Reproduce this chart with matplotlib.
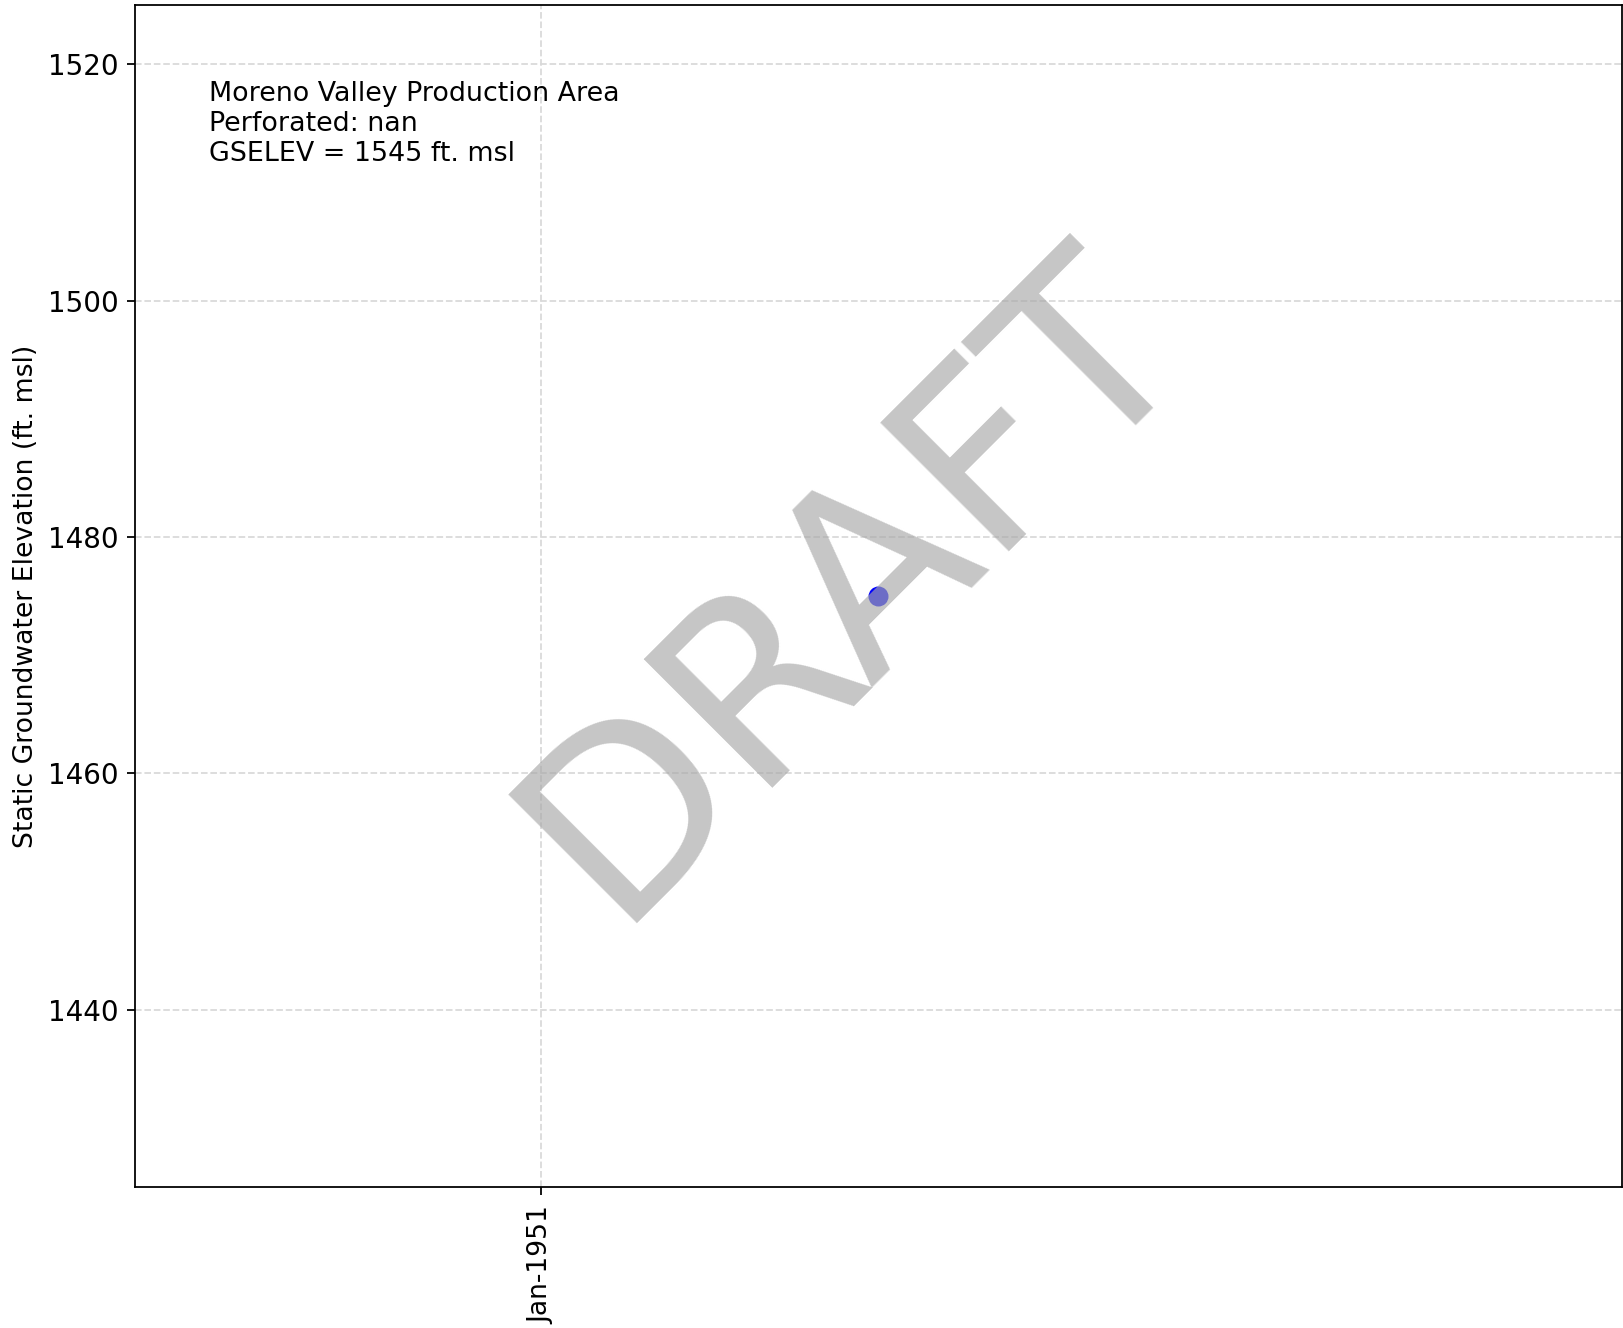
import datetime as dt
import matplotlib
matplotlib.use("Agg")
import matplotlib.pyplot as plt
import matplotlib.dates as mdates
from matplotlib.ticker import FixedLocator

# Well measurement
obs_dates = [dt.datetime(1951, 11, 28)]
obs_elev = [1475.0]

station_area = "Moreno Valley Production Area"
perforated = "nan"
gs_elev = 1545

y_ticks = [1440, 1460, 1480, 1500, 1520]
x_tick_dates = [dt.datetime(1951, 1, 1)]

DPI = 160
fig = plt.figure(figsize=(1623 / DPI, 1328 / DPI), dpi=DPI)
ax = fig.add_axes([0.0829, 0.1062, 0.9165, 0.8900])

ax.plot(obs_dates, obs_elev, linestyle="none", marker="o", color="blue",
        markersize=8, zorder=2)

# two years either side of the measurement
center = mdates.date2num(obs_dates[0])
ax.set_xlim(center - 730.5, center + 730.5)
ax.set_ylim(1425, 1525)

ax.xaxis.set_major_locator(FixedLocator(mdates.date2num(x_tick_dates)))
ax.xaxis.set_major_formatter(mdates.DateFormatter("%b-%Y"))
ax.set_yticks(y_ticks)
ax.tick_params(axis="y", labelsize=12.5)
ax.tick_params(axis="x", labelsize=12, pad=5)
for lbl in ax.get_xticklabels():
    lbl.set_rotation(90)

ax.grid(True, linestyle="--", color="0.85", linewidth=0.8)
ax.set_axisbelow(True)
ax.set_ylabel("Static Groundwater Elevation (ft. msl)", fontsize=12)

info = f"{station_area}\nPerforated: {perforated}\nGSELEV = {gs_elev} ft. msl"
ax.text(0.05, 0.936, info, transform=ax.transAxes, fontsize=12.1,
        ha="left", va="top")

ax.text(0.4837, 0.5093, "DRAFT", transform=ax.transAxes, fontsize=112.5,
        color="0.66", alpha=0.66, rotation=45, ha="center", va="center",
        zorder=5)

fig.savefig("out.png", dpi=DPI)
